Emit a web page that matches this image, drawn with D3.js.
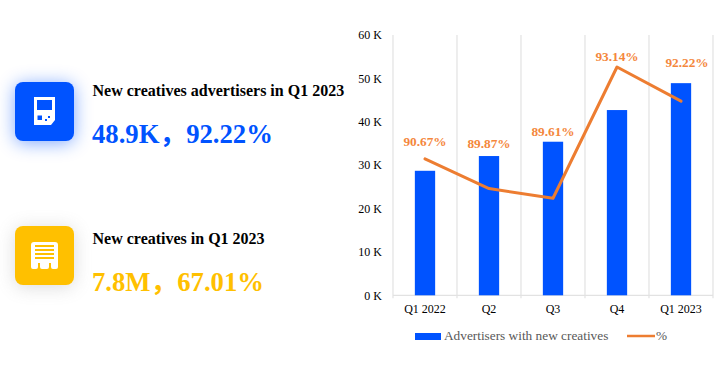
<!DOCTYPE html>
<html lang="zh-CN">
<head>
<meta charset="utf-8">
<script src="https://cdn.jsdelivr.net/npm/d3@7"></script>
<style>
  html, body { margin: 0; padding: 0; background: #fff; }
  svg { display: block; }
  text { font-family: "Liberation Serif", "Noto Sans CJK SC", serif; }
</style>
</head>
<body>
<svg id="chart" width="726" height="368"></svg>
<script>
const trimestres = ["Q1 2022", "Q2", "Q3", "Q4", "Q1 2023"];
const anunciantes = [28700, 32100, 35400, 42700, 48900];
const porcentajes = [90.67, 89.87, 89.61, 93.14, 92.22];
const ticksY = [0, 10000, 20000, 30000, 40000, 50000, 60000];

const tarjetas = [
  { titulo: "New creatives advertisers in Q1 2023", valor: "48.9K，92.22%", color: "#0053ff", sombra: "#0053ff" },
  { titulo: "New creatives in Q1 2023", valor: "7.8M，67.01%", color: "#ffc000", sombra: "#888888" }
];

const azul = "#0053ff", naranja = "#ed7d31", etiqueta = "#f4873c";

const svg = d3.select("#chart");
const defs = svg.append("defs");
defs.append("filter").attr("id", "blur")
    .attr("x", "-60%").attr("y", "-60%").attr("width", "220%").attr("height", "220%")
  .append("feGaussianBlur").attr("stdDeviation", 9);

// tarjetas de la izquierda
const posTarjetas = [
  { y: 82, tituloY: 96, valorY: 142.5 },
  { y: 226, tituloY: 244, valorY: 290.5 }
];

tarjetas.forEach((t, i) => {
  const p = posTarjetas[i];
  svg.append("rect").attr("x", 15).attr("y", p.y + 2).attr("width", 59).attr("height", 59)
    .attr("rx", 8).attr("fill", t.sombra).attr("opacity", i === 0 ? 0.5 : 0.3)
    .attr("filter", "url(#blur)");
  svg.append("rect").attr("x", 15).attr("y", p.y).attr("width", 59).attr("height", 59)
    .attr("rx", 8).attr("fill", t.color);
  svg.append("text").attr("x", 92.5).attr("y", p.tituloY)
    .attr("font-size", 16).attr("font-weight", "bold").attr("fill", "#000").text(t.titulo);
  svg.append("text").attr("x", 92).attr("y", p.valorY)
    .attr("font-size", 26.7).attr("font-weight", "bold").attr("fill", t.color).text(t.valor);
});

// icono consola
const ic1 = svg.append("g").attr("transform", "translate(34,97)");
ic1.append("path").attr("fill", "#fff").attr("fill-rule", "evenodd")
  .attr("d", "M0,0H21V23L17,28H0Z M3,3V13H18V3Z M3.5,18.5V23H8V18.5Z M11,22V24H13V22Z M14,19V21H16V19Z");

// icono recibo
const ic2 = svg.append("g").attr("transform", "translate(31,242)");
ic2.append("path").attr("fill", "#fff").attr("fill-rule", "evenodd")
  .attr("d", "M3,0H24Q27,0 27,3V25Q27,27 25,27H22Q20,27 20,25V21H18V25Q18,27 16,27H11Q9,27 9,25V21H7V25Q7,27 5,27H2Q0,27 0,25V3Q0,0 3,0Z M4,3V5H23V3Z M4,7V9H23V7Z M4,11V13H23V11Z M4,15V17H23V15Z");

// grafico
const margen = { top: 35, right: 13, bottom: 72.7, left: 393 };
const ancho = 726 - margen.left - margen.right;
const alto = 368 - margen.top - margen.bottom;
const g = svg.append("g").attr("transform", `translate(${margen.left},${margen.top})`);

const x = d3.scaleBand().domain(trimestres).range([0, ancho]);
const y = d3.scaleLinear().domain([0, 60000]).range([alto, 0]);
const yPct = d3.scaleLinear().domain([87, 94]).range([alto, 0]);
const anchoBarra = 20.3;

// lineas verticales entre categorias
g.selectAll(".rejilla")
  .data(d3.range(trimestres.length + 1))
  .enter().append("line")
    .attr("class", "rejilla")
    .attr("x1", d => d * x.step()).attr("x2", d => d * x.step())
    .attr("y1", 0).attr("y2", alto + 3)
    .attr("stroke", "#e2e2e2").attr("stroke-width", 1.2);

g.append("line").attr("x1", 0).attr("x2", ancho).attr("y1", alto).attr("y2", alto)
  .attr("stroke", "#e2e2e2").attr("stroke-width", 1.2);

const ejeY = g.append("g").call(d3.axisLeft(y).tickValues(ticksY).tickSize(0).tickPadding(11)
  .tickFormat(d => (d / 1000) + " K"));
ejeY.select(".domain").remove();
ejeY.selectAll("text").attr("font-size", 12).attr("fill", "#000")
  .style("font-family", '"Liberation Serif", serif');

const ejeX = g.append("g").attr("transform", `translate(0,${alto})`)
  .call(d3.axisBottom(x).tickSize(0).tickPadding(9.5));
ejeX.select(".domain").remove();
ejeX.selectAll("text").attr("font-size", 12).attr("fill", "#000")
  .style("font-family", '"Liberation Serif", serif');

g.selectAll(".barra")
  .data(anunciantes)
  .enter().append("rect")
    .attr("class", "barra")
    .attr("x", (d, i) => x(trimestres[i]) + x.bandwidth() / 2 - anchoBarra / 2)
    .attr("y", d => y(d))
    .attr("width", anchoBarra)
    .attr("height", d => alto - y(d))
    .attr("fill", azul);

const linea = d3.line()
  .x((d, i) => x(trimestres[i]) + x.bandwidth() / 2)
  .y(d => yPct(d));

g.append("path").datum(porcentajes)
  .attr("d", linea)
  .attr("fill", "none")
  .attr("stroke", naranja)
  .attr("stroke-width", 3)
  .attr("stroke-linecap", "round")
  .attr("stroke-linejoin", "round");

// etiquetas de porcentaje
const despY = [-12.5, -41, -62, -6, -34.5];
const despX = [0, 0, 0, 0, 6];
g.selectAll(".etiqueta")
  .data(porcentajes)
  .enter().append("text")
    .attr("class", "etiqueta")
    .attr("x", (d, i) => x(trimestres[i]) + x.bandwidth() / 2 + despX[i])
    .attr("y", (d, i) => yPct(d) + despY[i])
    .attr("text-anchor", "middle")
    .attr("font-size", 13.3)
    .attr("font-weight", "bold")
    .attr("fill", etiqueta)
    .text(d => d.toFixed(2) + "%");

// leyenda
svg.append("rect").attr("x", 415).attr("y", 333).attr("width", 26).attr("height", 7).attr("fill", azul);
svg.append("text").attr("x", 444).attr("y", 340).attr("font-size", 13.3).attr("fill", "#595959")
  .text("Advertisers with new creatives");
svg.append("line").attr("x1", 627).attr("x2", 655).attr("y1", 336).attr("y2", 336)
  .attr("stroke", naranja).attr("stroke-width", 2.5);
svg.append("text").attr("x", 656).attr("y", 340).attr("font-size", 13.3).attr("fill", "#595959").text("%");
</script>
</body>
</html>
